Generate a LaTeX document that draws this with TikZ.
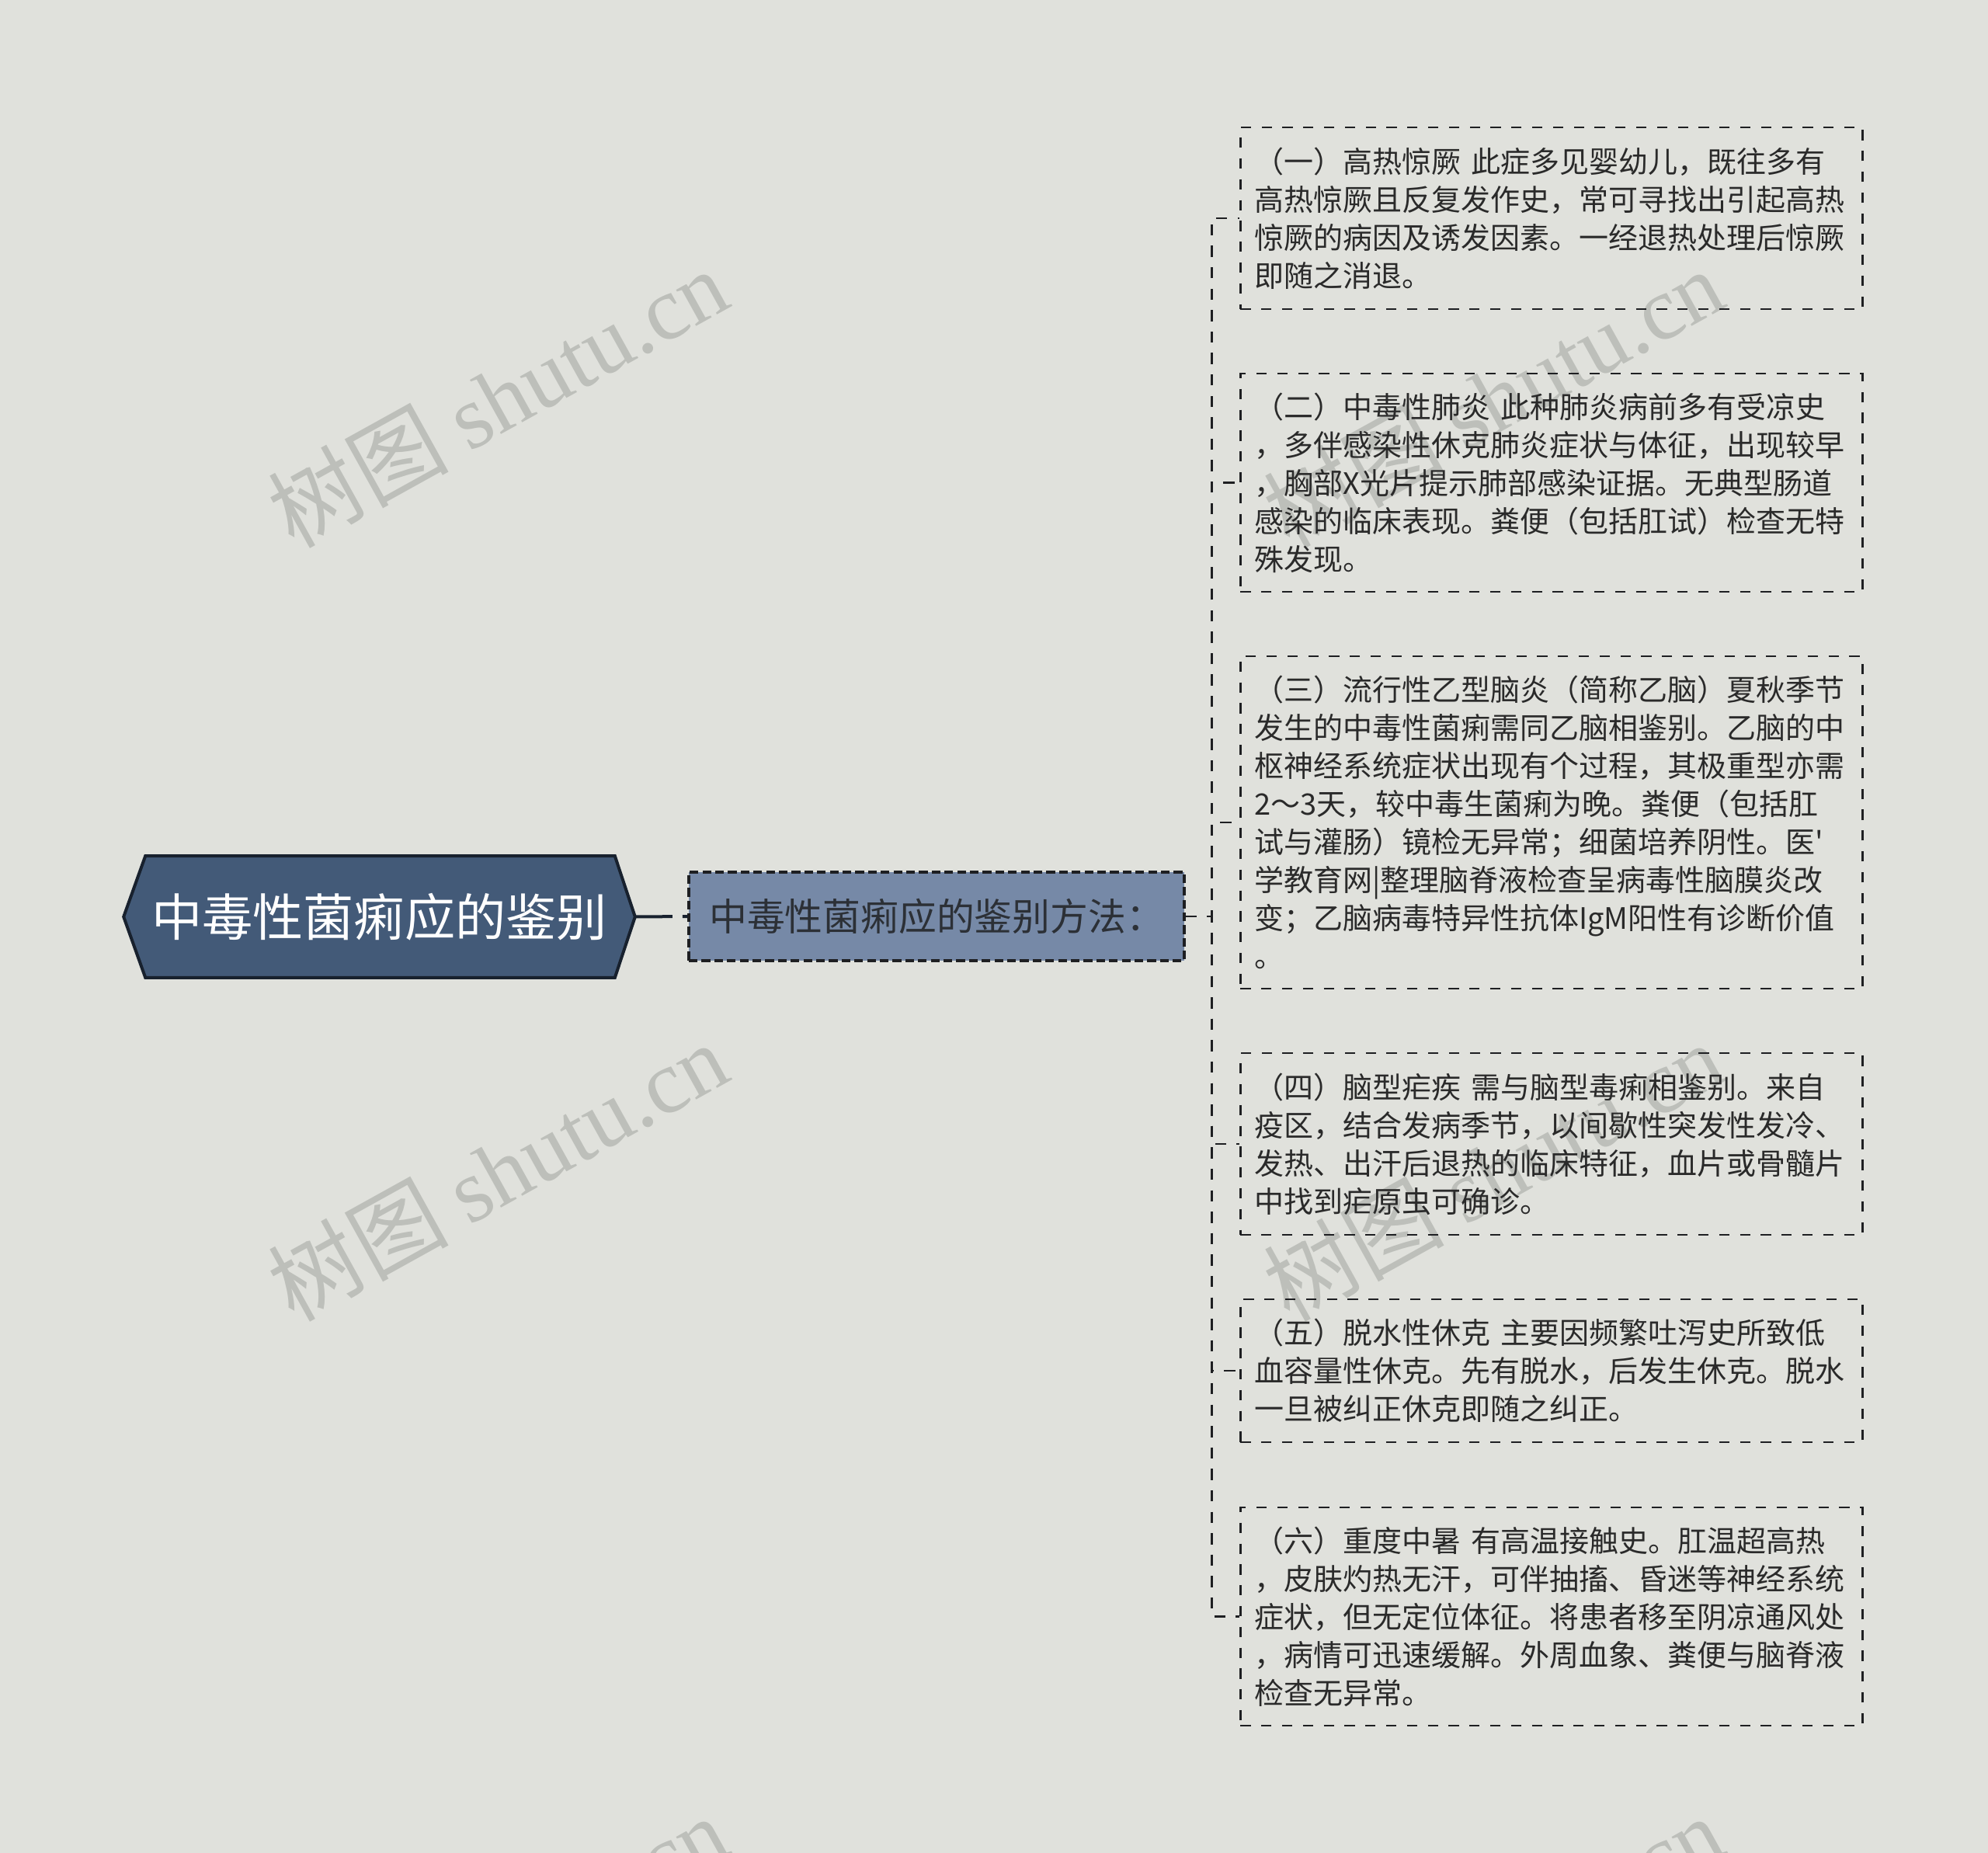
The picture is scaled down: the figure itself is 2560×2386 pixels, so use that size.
\documentclass[tikz,border=0pt]{standalone}
\usepackage{fontspec}
\setmainfont{Noto Sans CJK SC}
\newfontfamily\wmlatin{Liberation Serif}
\newfontfamily\wmcjk{Noto Sans CJK SC}
\usetikzlibrary{backgrounds}
\definecolor{bgc}{HTML}{E0E1DC}
\definecolor{rootfill}{HTML}{435A78}
\definecolor{rootline}{HTML}{18212E}
\definecolor{midfill}{HTML}{7689A7}
\definecolor{midtext}{HTML}{2C3036}
\definecolor{leafline}{HTML}{1E1F22}
\definecolor{leaftext}{HTML}{2A2A2A}
\definecolor{wmc}{HTML}{BDBFBA}
\newcommand{\straightquote}{\XeTeXglyph\XeTeXcharglyph"0027\relax}
\tikzset{
  rootnode/.style={minimum width=164.25pt, minimum height=38.75pt, inner sep=0pt,
    text=white, font=\fontsize{16.3pt}{19pt}\selectfont},
  hexborder/.style={fill=rootfill, draw=rootline, line width=1pt, line join=miter},
  midnode/.style={draw=leafline, fill=midfill, line width=0.8pt, dash pattern=on 2.8pt off 1.3pt,
    minimum width=159.5pt, minimum height=28.5pt, inner sep=0pt,
    text=midtext, font=\fontsize{12.2pt}{14pt}\selectfont},
  leafbox/.style={draw=leafline, line width=0.68pt, dash pattern=on 3.3pt off 3.4pt,
    text=leaftext, font=\fontsize{9.5pt}{12.25pt}\selectfont, align=left,
    text width=191.25pt, inner xsep=4.5pt, inner ysep=0pt, anchor=west},
  rootconn/.style={draw=rootline, line width=1pt, dash pattern=on 12pt off 3.25pt},
  conn/.style={draw=leafline, line width=0.68pt, dash pattern=on 3.6pt off 3.3pt},
  wm/.style={text=wmc, font=\fontsize{29pt}{31pt}\selectfont, inner sep=0pt, anchor=base west, rotate=29}
}
\begin{document}
\begin{tikzpicture}[x=0.25pt,y=-0.25pt]
\useasboundingbox (0,0) rectangle (2560,2386);
\begin{scope}[on background layer]
  \fill[bgc] (0,0) rectangle (2560,2386);
  \node[wm] (wm1) at (378,708) {{\wmcjk 树图} {\wmlatin shutu.cn}};
  \node[wm] (wm2) at (378,1704) {{\wmcjk 树图} {\wmlatin shutu.cn}};
  \node[wm] (wm3) at (378,2700) {{\wmcjk 树图} {\wmlatin shutu.cn}};
  \node[wm] (wm4) at (1660,708) {{\wmcjk 树图} {\wmlatin shutu.cn}};
  \node[wm] (wm5) at (1660,1704) {{\wmcjk 树图} {\wmlatin shutu.cn}};
  \node[wm] (wm6) at (1660,2700) {{\wmcjk 树图} {\wmlatin shutu.cn}};
\end{scope}

\node[rootnode] (root) at (488.5,1180.5) {中毒性菌痢应的鉴别};
\begin{scope}[on background layer]
  \draw[hexborder] (root.west) -- ([xshift=7pt]root.north west) -- ([xshift=-6.5pt]root.north east)
    -- (root.east) -- ([xshift=-6.5pt]root.south east) -- ([xshift=7pt]root.south west) -- cycle;
\end{scope}

\node[midnode] (mid) at (1206,1180) {中毒性菌痢应的鉴别方法：};

\node[leafbox, minimum height=58.5pt] (l1) at (1596,281) {（一）高热惊厥 此症多见婴幼儿，既往多有\\高热惊厥且反复发作史，常可寻找出引起高热\\惊厥的病因及诱发因素。一经退热处理后惊厥\\即随之消退。};
\node[leafbox, minimum height=70.25pt] (l2) at (1596,621.5) {（二）中毒性肺炎 此种肺炎病前多有受凉史\\，多伴感染性休克肺炎症状与体征，出现较早\\，胸部X光片提示肺部感染证据。无典型肠道\\感染的临床表现。粪便（包括肛试）检查无特\\殊发现。};
\node[leafbox, minimum height=107pt] (l3) at (1596,1059) {（三）流行性乙型脑炎（简称乙脑）夏秋季节\\发生的中毒性菌痢需同乙脑相鉴别。乙脑的中\\枢神经系统症状出现有个过程，其极重型亦需\\2～3天，较中毒生菌痢为晚。粪便（包括肛\\试与灌肠）镜检无异常；细菌培养阴性。医\straightquote\\学教育网|整理脑脊液检查呈病毒性脑膜炎改\\变；乙脑病毒特异性抗体IgM阳性有诊断价值\\。};
\node[leafbox, minimum height=58.5pt] (l4) at (1596,1473) {（四）脑型疟疾 需与脑型毒痢相鉴别。来自\\疫区，结合发病季节，以间歇性突发性发冷、\\发热、出汗后退热的临床特征，血片或骨髓片\\中找到疟原虫可确诊。};
\node[leafbox, minimum height=46pt] (l5) at (1596,1765) {（五）脱水性休克 主要因频繁吐泻史所致低\\血容量性休克。先有脱水，后发生休克。脱水\\一旦被纠正休克即随之纠正。};
\node[leafbox, minimum height=70.25pt] (l6) at (1596,2081.5) {（六）重度中暑 有高温接触史。肛温超高热\\，皮肤灼热无汗，可伴抽搐、昏迷等神经系统\\症状，但无定位体征。将患者移至阴凉通风处\\，病情可迅速缓解。外周血象、粪便与脑脊液\\检查无异常。};

\draw[rootconn] (root.east) -- (mid.west);
\coordinate (trunk) at (1560.5,1180);
\foreach \leaf in {l1,l2,l3,l4,l5,l6}{
  \draw[conn] (mid.east) -- (trunk) |- (\leaf.west);
}
\end{tikzpicture}
\end{document}
